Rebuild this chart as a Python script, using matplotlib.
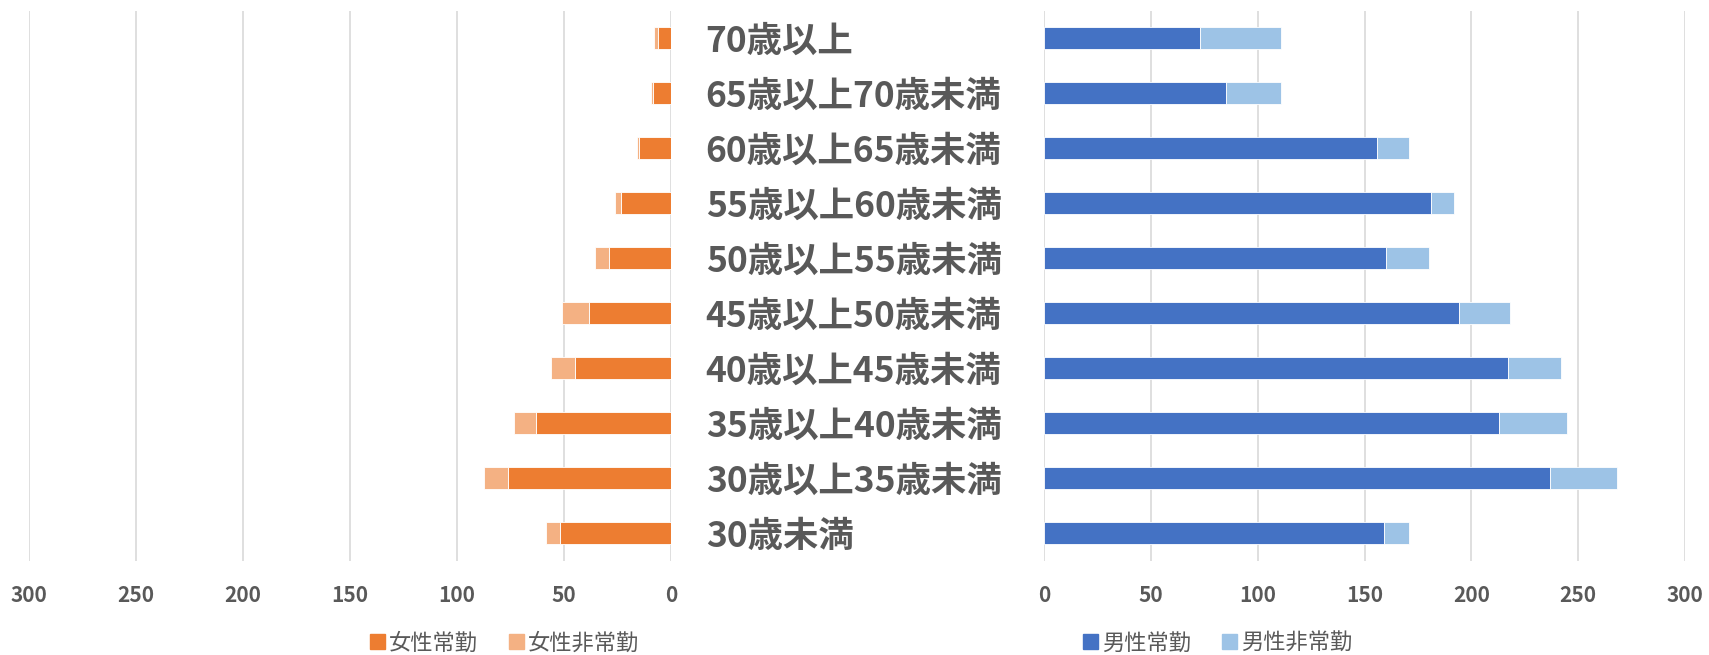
import matplotlib
matplotlib.use("Agg")
import numpy as np
import matplotlib.pyplot as plt
from matplotlib.patches import Patch

plt.rcParams['font.family'] = ['Noto Sans CJK JP', 'DejaVu Sans']

# bottom -> top
age_groups = ['30歳未満', '30歳以上35歳未満', '35歳以上40歳未満', '40歳以上45歳未満',
              '45歳以上50歳未満', '50歳以上55歳未満', '55歳以上60歳未満',
              '60歳以上65歳未満', '65歳以上70歳未満', '70歳以上']
female_regular = [52, 76, 63, 45, 38.5, 29, 23.5, 15, 8.5, 6]
female_nonregular = [6.5, 11.5, 10.5, 11, 12.5, 6.5, 2.5, 1, 1, 2]
male_regular = [159, 237, 213, 217, 194, 160, 181, 156, 85, 73]
male_nonregular = [12, 31, 32, 25, 24, 20, 11, 15, 26, 38]
xticks = [0, 50, 100, 150, 200, 250, 300]

C_F1, C_F2 = '#ED7D31', '#F4B183'
C_M1, C_M2 = '#4472C4', '#9DC3E6'
TXT = '#595959'
GRID = '#D9D9D9'

W, H = 1709, 655
fig = plt.figure(figsize=(W / 100, H / 100), dpi=100)
bottom, height = 1 - 560.5 / H, (560.5 - 10.7) / H
axl = fig.add_axes([29 / W, bottom, 642 / W, height])
axr = fig.add_axes([1044 / W, bottom, 641 / W, height])

y = np.arange(len(age_groups))
bh = 0.4

fr = np.array(female_regular)
fn = np.array(female_nonregular)
mr = np.array(male_regular)
mn = np.array(male_nonregular)

axl.barh(y, fr, bh, color=C_F1, edgecolor='white', linewidth=0.6, label='女性常勤', zorder=3)
axl.barh(y, fn, bh, left=fr, color=C_F2, edgecolor='white', linewidth=0.6, label='女性非常勤', zorder=3)
axr.barh(y, mr, bh, color=C_M1, edgecolor='white', linewidth=0.6, label='男性常勤', zorder=3)
axr.barh(y, mn, bh, left=mr, color=C_M2, edgecolor='white', linewidth=0.6, label='男性非常勤', zorder=3)

axl.set_xlim(300, 0)
axr.set_xlim(0, 300)

for ax in (axl, axr):
    ax.set_ylim(-0.5, len(age_groups) - 0.5)
    ax.set_xticks(xticks)
    ax.xaxis.grid(True, color=GRID, linewidth=1.2, zorder=0)
    ax.set_axisbelow(True)
    for s in ax.spines.values():
        s.set_visible(False)
    ax.tick_params(axis='x', length=0, pad=18, labelsize=15, labelcolor=TXT)
    for lab in ax.get_xticklabels():
        lab.set_fontweight('bold')

axr.set_yticks([])
axl.yaxis.tick_right()
axl.set_yticks(y)
axl.set_yticklabels(age_groups, fontsize=25.5, fontweight='bold', color=TXT, ha='left')
axl.tick_params(axis='y', length=0, pad=25)

lh = [Patch(color=C_F1), Patch(color=C_F2)]
fig.legend(lh, ['女性常勤', '女性非常勤'], loc='center', bbox_to_anchor=(505 / W, 1 - 643 / H),
           ncol=2, frameon=False, fontsize=16, labelcolor=TXT,
           handlelength=0.65, handleheight=0.65, handletextpad=0.2, columnspacing=1.4)
rh = [Patch(color=C_M1), Patch(color=C_M2)]
fig.legend(rh, ['男性常勤', '男性非常勤'], loc='center', bbox_to_anchor=(1218 / W, 1 - 643 / H),
           ncol=2, frameon=False, fontsize=16, labelcolor=TXT,
           handlelength=0.65, handleheight=0.65, handletextpad=0.2, columnspacing=1.4)

fig.savefig('out.png', dpi=100)
